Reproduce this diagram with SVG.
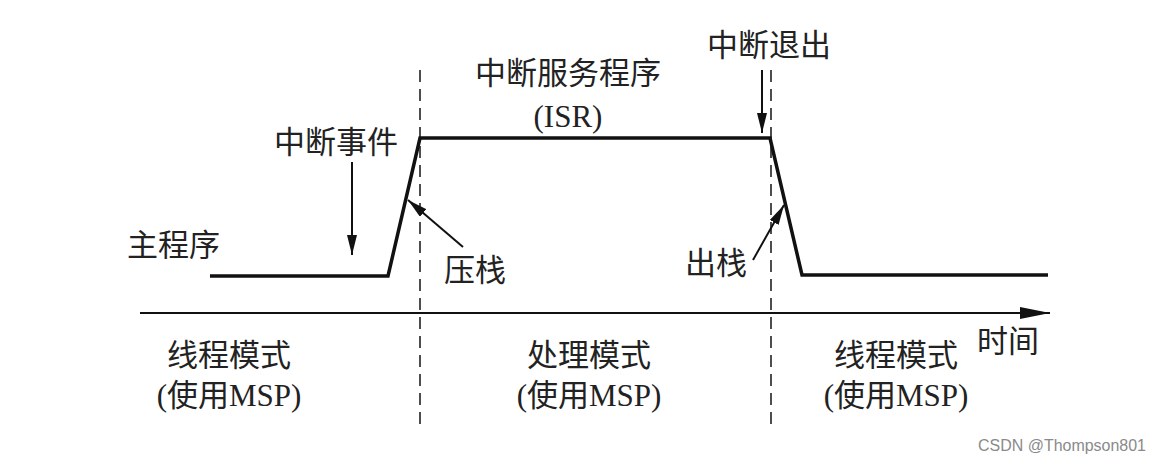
<svg xmlns="http://www.w3.org/2000/svg" width="1162" height="464" viewBox="0 0 1162 464">
<defs>
<style>
.t{font-family:"Liberation Serif","Noto Sans CJK SC",serif;font-size:31px;fill:#222}
.m{text-anchor:middle}
.sig{fill:none;stroke:#111;stroke-width:3.5;stroke-linejoin:miter}
.dash{stroke:#222;stroke-width:1.6;stroke-dasharray:12 7;fill:none}
.ar{stroke:#111;stroke-width:2;fill:none}
.wm{font-family:"Liberation Sans",Arial,sans-serif;font-size:16px;fill:#8a8a8a}
</style>
<marker id="ah" viewBox="0 0 20 10" refX="20" refY="5" markerWidth="20" markerHeight="10" markerUnits="userSpaceOnUse" orient="auto">
<path d="M0,0 L20,5 L0,10 Z" fill="#111"/>
</marker>
<marker id="ah2" viewBox="0 0 30 12" refX="30" refY="6" markerWidth="30" markerHeight="12" markerUnits="userSpaceOnUse" orient="auto">
<path d="M0,0 L30,6 L0,12 Z" fill="#111"/>
</marker>
</defs>
<rect width="1162" height="464" fill="#fff"/>
<g id="connectors">
<line class="dash" x1="420" y1="70" x2="420" y2="424"/>
<line class="dash" x1="771" y1="70" x2="771" y2="424"/>
<polyline id="signal" class="sig" points="210,276 388,276 420,138 770,138 802,275 1048,275"/>
<line id="time-axis" x1="140" y1="313" x2="1050" y2="313" stroke="#111" stroke-width="2" marker-end="url(#ah2)"/>
<line class="ar" x1="352" y1="162" x2="352" y2="255" marker-end="url(#ah)"/>
<line class="ar" x1="463" y1="247" x2="408" y2="200" marker-end="url(#ah)"/>
<line class="ar" x1="762" y1="70" x2="762" y2="133" marker-end="url(#ah)"/>
<line class="ar" x1="753" y1="260" x2="784" y2="205" marker-end="url(#ah)"/>
</g>
<g id="isr"><text class="t m" x="568" y="84">中断服务程序</text><text class="t m" x="568" y="127">(ISR)</text></g>
<g id="exit"><text class="t m" x="769" y="56">中断退出</text></g>
<g id="event"><text class="t m" x="336" y="153">中断事件</text></g>
<g id="main"><text class="t" x="127" y="256">主程序</text></g>
<g id="push"><text class="t" x="444" y="281">压栈</text></g>
<g id="pop"><text class="t" x="685" y="274">出栈</text></g>
<g id="thread1"><text class="t m" x="229" y="366">线程模式</text><text class="t m" x="229" y="406">(使用MSP)</text></g>
<g id="handler"><text class="t m" x="589" y="366">处理模式</text><text class="t m" x="589" y="406">(使用MSP)</text></g>
<g id="thread2"><text class="t m" x="896" y="366">线程模式</text><text class="t m" x="896" y="406">(使用MSP)</text></g>
<g id="time"><text class="t" x="977" y="352">时间</text></g>
<text class="wm" x="978" y="451" textLength="168" lengthAdjust="spacingAndGlyphs">CSDN @Thompson801</text>
</svg>
